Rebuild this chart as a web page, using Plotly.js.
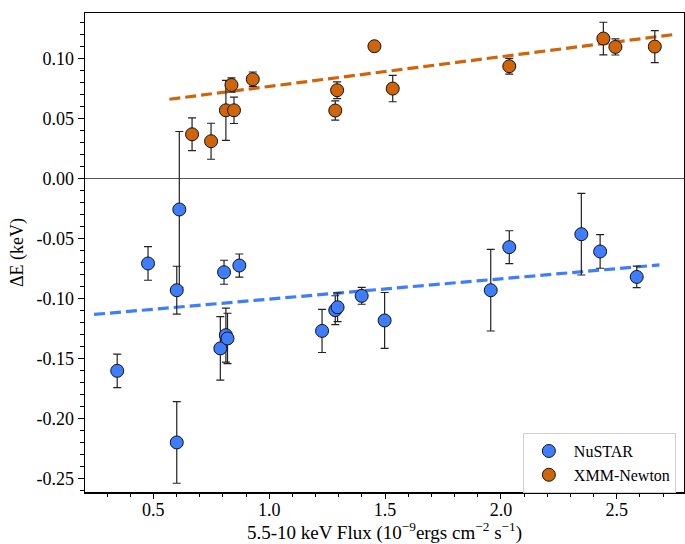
<!DOCTYPE html>
<html>
<head>
<meta charset="utf-8">
<script src="https://cdn.plot.ly/plotly-3.0.1.min.js"></script>
<style>html,body{margin:0;padding:0;background:#fff;}#chart{width:685px;height:544px;}</style>
</head>
<body>
<div id="chart"></div>
<script>
// NuSTAR measurements
const nustarFlux = [0.344, 0.601, 0.477, 0.601, 0.612, 0.805, 0.871, 0.789, 0.813, 0.820, 1.228, 1.285, 1.295, 1.399, 1.498, 1.956, 2.036, 2.347, 2.428, 2.586];
const nustarDE   = [-0.160, -0.2197, -0.0705, -0.0928, -0.0255, -0.0778, -0.0722, -0.1413, -0.1303, -0.1330, -0.1267, -0.1094, -0.1070, -0.0975, -0.1180, -0.0928, -0.0569, -0.0461, -0.0605, -0.0817];
const nustarErr  = [0.014, 0.034, 0.014, 0.020, 0.065, 0.010, 0.0096, 0.0265, 0.0225, 0.021, 0.018, 0.012, 0.012, 0.007, 0.0233, 0.034, 0.0137, 0.034, 0.014, 0.009];

// XMM-Newton measurements
const xmmFlux = [0.667, 0.749, 0.813, 0.848, 0.837, 0.929, 1.293, 1.285, 1.454, 1.533, 2.036, 2.442, 2.494, 2.664];
const xmmDE   = [0.0372, 0.0314, 0.0572, 0.0572, 0.0783, 0.0831, 0.0739, 0.0570, 0.1106, 0.0753, 0.0939, 0.1170, 0.1100, 0.1103];
const xmmErr  = [0.0137, 0.015, 0.025, 0.011, 0.006, 0.006, 0.007, 0.008, 0.002, 0.011, 0.0065, 0.0136, 0.0067, 0.0133];

// Linear fits (end points)
const nustarFitX = [0.244, 2.684];
const nustarFitY = [-0.1130, -0.0717];
const xmmFitX = [0.569, 2.744];
const xmmFitY = [0.0664, 0.1203];

// Tick labels
const yTickVals = [0.10, 0.05, 0.00, -0.05, -0.10, -0.15, -0.20, -0.25];
const yTickText = ['0.10', '0.05', '0.00', '-0.05', '-0.10', '-0.15', '-0.20', '-0.25'];
const xTickVals = [0.5, 1.0, 1.5, 2.0, 2.5];
const xTickText = ['0.5', '1.0', '1.5', '2.0', '2.5'];

const blue = '#3f7dff';
const orange = '#d06408';
const serif = "'Liberation Serif', 'Times New Roman', serif";

const traces = [
  {x: nustarFitX, y: nustarFitY, mode: 'lines', line: {color: blue, width: 3.2, dash: '11px,5px'}, showlegend: false, hoverinfo: 'skip'},
  {x: xmmFitX, y: xmmFitY, mode: 'lines', line: {color: orange, width: 3.2, dash: '11px,5px'}, showlegend: false, hoverinfo: 'skip'},
  {x: nustarFlux, y: nustarDE, name: 'NuSTAR', mode: 'markers', type: 'scatter',
   marker: {color: blue, size: 13, line: {color: '#111', width: 1}},
   error_y: {type: 'data', array: nustarErr, visible: true, color: '#222', thickness: 1.2, width: 4}},
  {x: xmmFlux, y: xmmDE, name: 'XMM-Newton', mode: 'markers', type: 'scatter',
   marker: {color: orange, size: 13, line: {color: '#111', width: 1}},
   error_y: {type: 'data', array: xmmErr, visible: true, color: '#222', thickness: 1.2, width: 4}}
];

const layout = {
  width: 685, height: 544,
  margin: {l: 85, r: 1, t: 13, b: 52},
  paper_bgcolor: '#fff', plot_bgcolor: '#fff',
  font: {family: serif, color: '#000', size: 18},
  showlegend: true,
  legend: {x: 0.731, y: 0.123, xanchor: 'left', yanchor: 'top', bgcolor: '#fff',
           bordercolor: '#d0d0d0', borderwidth: 1, font: {family: serif, size: 16, color: '#000'},
           tracegroupgap: 2, itemwidth: 40},
  xaxis: {
    range: [0.205, 2.79], showgrid: false, zeroline: false,
    showline: true, linecolor: '#000', linewidth: 1.5, mirror: true,
    ticks: 'outside', ticklen: 5, tickwidth: 1, tickcolor: '#000',
    ticklabelstandoff: -4,
    tickvals: xTickVals, ticktext: xTickText, tickfont: {family: serif, size: 18},
    minor: {ticks: 'outside', dtick: 0.1, tick0: 0, ticklen: 3, tickwidth: 1, tickcolor: '#000', showgrid: false},
    title: {text: '5.5-10 keV Flux (10<sup>−9</sup>ergs cm<sup>−2</sup> s<sup>−1</sup>)', font: {family: serif, size: 19}, standoff: 4}
  },
  yaxis: {
    range: [-0.261, 0.1383], showgrid: false,
    zeroline: true, zerolinecolor: '#555', zerolinewidth: 1,
    showline: true, linecolor: '#000', linewidth: 1.5, mirror: true,
    ticks: 'outside', ticklen: 6, tickwidth: 1, tickcolor: '#000',
    tickvals: yTickVals, ticktext: yTickText, tickfont: {family: serif, size: 18},
    minor: {ticks: 'outside', dtick: 0.01, tick0: 0, ticklen: 3.5, tickwidth: 1, tickcolor: '#000', showgrid: false},
    title: {text: 'ΔE (keV)', font: {family: serif, size: 18}, standoff: 8}
  }
};

Plotly.newPlot('chart', traces, layout, {displayModeBar: false, staticPlot: true});
</script>
</body>
</html>
